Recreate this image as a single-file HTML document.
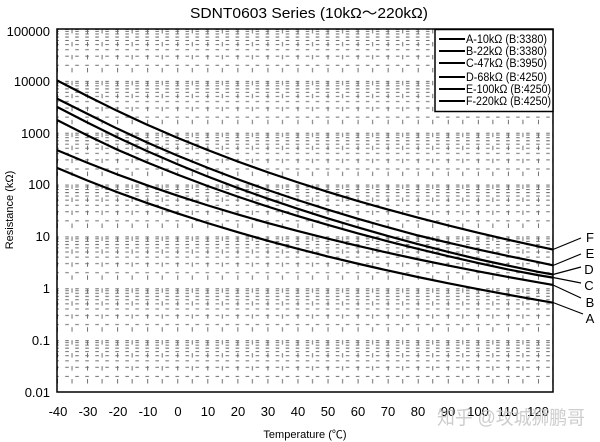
<!DOCTYPE html>
<html><head><meta charset="utf-8"><style>
html,body{margin:0;padding:0;background:#fff;}
svg{display:block;}
text{font-family:"Liberation Sans","Noto Sans CJK SC",sans-serif;}
</style></head><body>
<svg width="600" height="442" viewBox="0 0 600 442" xmlns="http://www.w3.org/2000/svg">
<defs>
<pattern id="g" patternUnits="userSpaceOnUse" x="57" y="29" width="30.06" height="51.857">
<g stroke="#6e6e6e" stroke-width="1" fill="none" stroke-dasharray="3.6 6.42" stroke-dashoffset="1.8">
<line x1="0" y1="0.5" x2="30.06" y2="0.5"/>
<line x1="0" y1="2.38" x2="30.06" y2="2.38"/>
<line x1="0" y1="5.03" x2="30.06" y2="5.03"/>
<line x1="0" y1="8.04" x2="30.06" y2="8.04"/>
<line x1="0" y1="11.51" x2="30.06" y2="11.51"/>
<line x1="0" y1="15.61" x2="30.06" y2="15.61"/>
<line x1="0" y1="20.64" x2="30.06" y2="20.64"/>
<line x1="0" y1="27.12" x2="30.06" y2="27.12"/>
<line x1="0" y1="36.25" x2="30.06" y2="36.25"/>
</g>
<g stroke="#6e6e6e" stroke-width="1" fill="none" stroke-dasharray="4.5 8.464">
<line x1="0.5" y1="0" x2="0.5" y2="51.857"/>
<line x1="15.03" y1="0" x2="15.03" y2="51.857"/>
</g>
</pattern>
</defs>

<text x="309" y="18" font-size="15" text-anchor="middle" textLength="238" lengthAdjust="spacingAndGlyphs" fill="#000">SDNT0603 Series (10kΩ～220kΩ)</text>

<rect x="57" y="29" width="496" height="363" fill="url(#g)"/>

<!-- curves -->
<g fill="none" stroke="#000" stroke-width="2.2" stroke-linejoin="round">
<polyline points="57,167.84 87.06,180.39 117.12,192.10 147.18,203.06 177.24,213.34 207.3,223.00 237.36,232.09 267.42,240.65 297.48,248.74 327.54,256.38 357.6,263.62 387.66,270.48 417.72,277.00 447.78,283.20 477.84,289.09 507.9,294.71 537.96,300.07 553,302.66"/>
<polyline points="57,150.08 87.06,162.63 117.12,174.34 147.18,185.30 177.24,195.58 207.3,205.24 237.36,214.33 267.42,222.89 297.48,230.98 327.54,238.62 357.6,245.86 387.66,252.72 417.72,259.24 447.78,265.44 477.84,271.33 507.9,276.95 537.96,282.31 553,284.90"/>
<polyline points="57,119.98 87.06,135.29 117.12,149.59 147.18,162.48 177.24,174.54 207.3,185.86 237.36,196.49 267.42,206.50 297.48,215.94 327.54,224.85 357.6,233.28 387.66,241.27 417.72,248.85 447.78,256.04 477.84,262.89 507.9,269.40 537.96,275.11 553,277.61"/>
<polyline points="57,106.85 87.06,122.35 117.12,137.25 147.18,151.15 177.24,164.16 207.3,176.35 237.36,187.80 267.42,198.56 297.48,208.71 327.54,218.30 357.6,227.36 387.66,235.93 417.72,244.07 447.78,251.79 477.84,259.13 507.9,265.62 537.96,271.78 553,274.49"/>
<polyline points="57,98.66 87.06,113.66 117.12,128.56 147.18,142.46 177.24,155.47 207.3,167.66 237.36,179.11 267.42,189.87 297.48,200.02 327.54,209.61 357.6,218.67 387.66,227.24 417.72,235.38 447.78,242.60 477.84,249.44 507.9,255.93 537.96,262.09 553,265.30"/>
<polyline points="57,80.40 87.06,95.90 117.12,110.80 147.18,124.70 177.24,137.71 207.3,149.90 237.36,161.35 267.42,172.11 297.48,182.26 327.54,191.85 357.6,200.91 387.66,209.48 417.72,217.62 447.78,225.34 477.84,232.68 507.9,239.67 537.96,246.33 553,249.54"/>
</g>

<!-- frame -->
<rect x="57" y="29" width="496" height="363" fill="none" stroke="#000" stroke-width="1.5"/>

<!-- legend -->
<rect x="435" y="29.5" width="118" height="82" fill="#fff" stroke="#000" stroke-width="1.5"/>
<g stroke="#000" stroke-width="2">
<line x1="439" y1="39" x2="465" y2="39"/>
<line x1="439" y1="51" x2="465" y2="51"/>
<line x1="439" y1="63" x2="465" y2="63"/>
<line x1="439" y1="77" x2="465" y2="77"/>
<line x1="439" y1="89" x2="465" y2="89"/>
<line x1="439" y1="101" x2="465" y2="101"/>
</g>
<g font-size="11.5" fill="#000">
<text x="466" y="43" textLength="81" lengthAdjust="spacingAndGlyphs">A-10kΩ (B:3380)</text>
<text x="466" y="55" textLength="81" lengthAdjust="spacingAndGlyphs">B-22kΩ (B:3380)</text>
<text x="466" y="67" textLength="81" lengthAdjust="spacingAndGlyphs">C-47kΩ (B:3950)</text>
<text x="466" y="81" textLength="81" lengthAdjust="spacingAndGlyphs">D-68kΩ (B:4250)</text>
<text x="466" y="93" textLength="85" lengthAdjust="spacingAndGlyphs">E-100kΩ (B:4250)</text>
<text x="466" y="105" textLength="85" lengthAdjust="spacingAndGlyphs">F-220kΩ (B:4250)</text>
</g>

<!-- leader lines -->
<g stroke="#000" stroke-width="1.2">
<line x1="553" y1="249.5" x2="581" y2="238"/>
<line x1="553" y1="265.5" x2="581" y2="254"/>
<line x1="553" y1="274.5" x2="581" y2="267"/>
<line x1="553" y1="277.5" x2="581" y2="283"/>
<line x1="553" y1="285" x2="581" y2="298"/>
<line x1="553" y1="302.5" x2="583" y2="314"/>
</g>
<g font-size="13" fill="#000" text-anchor="middle">
<text x="590" y="242">F</text>
<text x="590" y="258">E</text>
<text x="589" y="274">D</text>
<text x="589" y="290">C</text>
<text x="590" y="307">B</text>
<text x="590" y="323">A</text>
</g>

<!-- y labels -->
<g font-size="13" fill="#000" text-anchor="end">
<text x="50" y="36">100000</text>
<text x="50" y="86">10000</text>
<text x="50" y="138">1000</text>
<text x="50" y="189">100</text>
<text x="50" y="241">10</text>
<text x="50" y="293">1</text>
<text x="50" y="345">0.1</text>
<text x="50" y="397">0.01</text>
</g>

<!-- x labels -->
<g font-size="13" fill="#000" text-anchor="middle">
<text x="58" y="416">-40</text>
<text x="88" y="416">-30</text>
<text x="118" y="416">-20</text>
<text x="148" y="416">-10</text>
<text x="178" y="416">0</text>
<text x="208" y="416">10</text>
<text x="238" y="416">20</text>
<text x="268" y="416">30</text>
<text x="298" y="416">40</text>
<text x="328" y="416">50</text>
<text x="358" y="416">60</text>
<text x="388" y="416">70</text>
<text x="418" y="416">80</text>
<text x="448" y="416">90</text>
<text x="478" y="416">100</text>
<text x="508" y="416">110</text>
<text x="538" y="416">120</text>
</g>

<text x="305" y="438" font-size="11" text-anchor="middle" fill="#000">Temperature (℃)</text>
<text transform="translate(13,210) rotate(-90)" font-size="11" text-anchor="middle" fill="#000">Resistance (kΩ)</text>

<text x="437" y="424" font-size="19" fill="#c4c4c4" fill-opacity="0.85" textLength="148" lengthAdjust="spacingAndGlyphs">知乎 @攻城狮鹏哥</text>
</svg>
</body></html>
